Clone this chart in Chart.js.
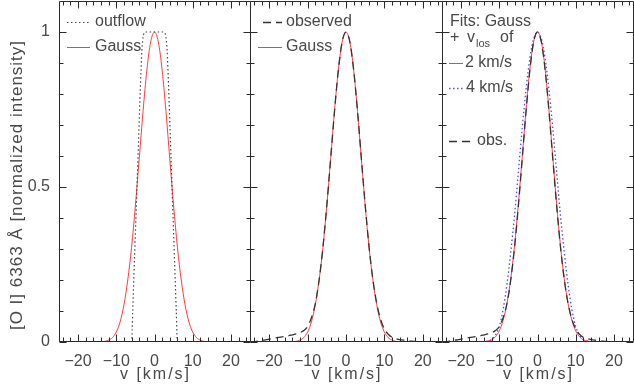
<!DOCTYPE html>
<html>
<head>
<meta charset="utf-8">
<script src="https://cdn.jsdelivr.net/npm/chart.js@4.4.1/dist/chart.umd.min.js"></script>
<style>
body { margin: 0; background: #fff; width: 634px; height: 385px; position: relative; overflow: hidden; }
canvas { position: absolute; top: 0; }
</style>
</head>
<body>
<canvas id="panel1" width="252" height="385" style="left:0px"></canvas>
<canvas id="panel2" width="196" height="385" style="left:248px"></canvas>
<canvas id="panel3" width="194" height="385" style="left:440px"></canvas>
<script>
// velocity grid [km/s] of the profiles
const velocity = [-25,-24,-23,-22,-21,-20,-19,-18,-17,-16,-15,-14,-13,-12,-11,-10,-9,-8,-7,-6,-5,-4,-3,-2,-1,
    0,1,2,3,4,5,6,7,8,9,10,11,12,13,14,15,16,17,18,19,20,21,22,23,24,25];

// Gauss fit (panels 1 and 2)
const gaussFit = [0,0,0,0,0,0,0,0,0,0,0,0.001,0.002,0.006,0.014,0.032,0.065,0.12,0.2,0.306,0.44,0.591,0.744,0.877,0.968,
    1,0.968,0.877,0.744,0.591,0.44,0.306,0.2,0.12,0.065,0.032,0.014,0.006,0.002,0.001,0,0,0,0,0,0,0,0,0,0,0];

// observed profile (panels 2 and 3)
const observed = [0,0.001,0.003,0.005,0.007,0.009,0.012,0.014,0.016,0.018,0.02,0.023,0.026,0.03,0.037,0.05,0.078,0.124,0.2,0.306,0.44,0.59,0.743,0.876,0.968,
    1,0.968,0.877,0.745,0.592,0.442,0.308,0.202,0.125,0.074,0.042,0.025,0.015,0.011,0.008,0.006,0.005,0.003,0.002,0.001,0,0,0,0,0,0];

// fits with v_los of 2 and 4 km/s (panel 3)
const fit2kms = [0,0,0,0,0,0,0,0,0,0,0,0.001,0.003,0.007,0.017,0.036,0.07,0.124,0.204,0.312,0.446,0.596,0.748,0.88,0.969,
    1,0.969,0.88,0.748,0.596,0.446,0.312,0.204,0.124,0.07,0.036,0.017,0.007,0.003,0.001,0,0,0,0,0,0,0,0,0,0,0];
const fit4kms = [0,0,0,0,0,0,0,0,0,0,0,0.001,0.003,0.008,0.022,0.05,0.105,0.185,0.29,0.41,0.55,0.69,0.815,0.915,0.978,
    1,0.978,0.915,0.815,0.69,0.55,0.41,0.29,0.185,0.105,0.05,0.022,0.008,0.003,0.001,0,0,0,0,0,0,0,0,0,0,0];

// outflow profile (panel 1)
const outflowVel = [-25,-6,-5.7,-5.2,-4.7,-4.2,-3.7,-3.3,-2.9,-2.4,0,2.4,2.9,3.3,3.7,4.2,4.7,5.2,5.7,6,25];
const outflow = [0,0,0.1,0.28,0.46,0.64,0.82,0.94,0.99,1,1,1,0.99,0.94,0.82,0.64,0.46,0.28,0.1,0,0];

// ticks
const xMajor = [-20,-10,0,10,20];
const xMinor = [-24,-22,-18,-16,-14,-12,-8,-6,-4,-2,2,4,6,8,12,14,16,18,22,24];
const yMajor = [0,0.5,1];
const yMinor = [0.1,0.2,0.3,0.4,0.6,0.7,0.8,0.9];

const xTitle = 'v [km/s]';
const yTitle = '[O I] 6363 \u00c5 [normalized intensity]';

const FONT = "'Liberation Sans', Arial, sans-serif";
const TEXT = '#484848';
const AXIS = '#2a2a2a';
const RED = '#ff3b3b';
const BLUE = '#4a4aff';

function pts(xs, ys) {
    return xs.map((x, i) => ({ x: x, y: ys[i] }));
}

const outflowStyle = { borderColor: '#444', borderDash: [1.5, 2.5], borderWidth: 1.2 };
const gaussStyle = { borderColor: RED, borderDash: [], borderWidth: 1 };
const obsStyle = { borderColor: '#333', borderDash: [8, 5], borderWidth: 1.3 };
const blueStyle = { borderColor: BLUE, borderDash: [1.5, 2.5], borderWidth: 1.3 };

// frame, inward ticks, legend and titles
const deco = {
    id: 'deco',
    afterDraw(chart, args, opts) {
        const ctx = chart.ctx;
        const a = chart.chartArea;
        const x = chart.scales.x, y = chart.scales.y;
        ctx.save();
        ctx.globalAlpha = 1;
        ctx.setLineDash([]);
        ctx.strokeStyle = AXIS;
        ctx.lineWidth = 1;
        const L = Math.round(a.left) + 0.5, R = Math.round(a.right) + 0.5;
        const T = Math.round(a.top) + 0.5, B = Math.round(a.bottom) - 0.5;
        ctx.beginPath();
        ctx.rect(L, T, R - L, B - T);
        xMajor.forEach(v => {
            const px = Math.round(x.getPixelForValue(v)) + 0.5;
            ctx.moveTo(px, B); ctx.lineTo(px, B - 7);
            ctx.moveTo(px, T); ctx.lineTo(px, T + 7);
        });
        xMinor.forEach(v => {
            const px = Math.round(x.getPixelForValue(v)) + 0.5;
            ctx.moveTo(px, B); ctx.lineTo(px, B - 4);
            ctx.moveTo(px, T); ctx.lineTo(px, T + 4);
        });
        yMajor.forEach(v => {
            const py = Math.round(y.getPixelForValue(v)) + 0.5;
            ctx.moveTo(L, py); ctx.lineTo(L + 7, py);
            ctx.moveTo(R, py); ctx.lineTo(R - 7, py);
        });
        yMinor.forEach(v => {
            const py = Math.round(y.getPixelForValue(v)) + 0.5;
            ctx.moveTo(L, py); ctx.lineTo(L + 4, py);
            ctx.moveTo(R, py); ctx.lineTo(R - 4, py);
        });
        ctx.stroke();

        // legend
        ctx.fillStyle = TEXT;
        ctx.font = '16px ' + FONT;
        ctx.textBaseline = 'middle';
        ctx.textAlign = 'left';
        (opts.legend || []).forEach(item => {
            if (item.ds !== undefined) {
                const ds = chart.data.datasets[item.ds];
                ctx.save();
                ctx.strokeStyle = ds.borderColor;
                ctx.lineWidth = ds.borderWidth;
                ctx.setLineDash(ds.borderDash || []);
                ctx.beginPath();
                ctx.moveTo(a.left + item.x1, item.y + 0.5);
                ctx.lineTo(a.left + item.x2, item.y + 0.5);
                ctx.stroke();
                ctx.restore();
            }
            if (item.parts) {
                item.parts.forEach(p => {
                    ctx.font = p.size + 'px ' + FONT;
                    ctx.fillText(p.text, a.left + p.x, item.y + (p.dy || 0));
                });
                ctx.font = '16px ' + FONT;
            } else {
                ctx.fillText(item.text, a.left + item.tx, item.y);
            }
        });

        // x title
        ctx.textAlign = 'center';
        ctx.letterSpacing = '2px';
        ctx.fillText(xTitle, (a.left + a.right) / 2 + 1, 375);
        // y title
        if (opts.yTitle) {
            ctx.font = '17px ' + FONT;
            ctx.letterSpacing = '1px';
            ctx.translate(17, 185);
            ctx.rotate(-Math.PI / 2);
            ctx.fillText(yTitle, 0, 0);
        }
        ctx.restore();
    }
};

function makePanel(id, datasets, cfg) {
    return new Chart(document.getElementById(id), {
        type: 'line',
        data: { datasets: datasets },
        options: {
            responsive: false,
            animation: false,
            layout: { padding: { top: 1, bottom: 0, left: cfg.padLeft, right: cfg.padRight } },
            elements: {
                point: { radius: 0 },
                line: { cubicInterpolationMode: 'monotone', fill: false }
            },
            plugins: {
                legend: { display: false },
                tooltip: { enabled: false },
                deco: { legend: cfg.legend, yTitle: cfg.showY }
            },
            scales: {
                x: {
                    type: 'linear', min: -25, max: 25,
                    grid: { display: false, drawTicks: false },
                    border: { display: false },
                    afterBuildTicks: s => { s.ticks = xMajor.map(v => ({ value: v })); },
                    afterFit: s => { s.height = 43; s.paddingLeft = 0; s.paddingRight = 0; },
                    ticks: {
                        font: { family: FONT, size: 16 }, color: TEXT, padding: 10,
                        maxRotation: 0, autoSkip: false,
                        callback: v => String(v).replace('-', '\u2212')
                    }
                },
                y: {
                    type: 'linear', min: 0, max: 1.1,
                    display: cfg.showY,
                    grid: { display: false, drawTicks: false },
                    border: { display: false },
                    afterBuildTicks: s => { s.ticks = yMajor.map(v => ({ value: v })); },
                    afterFit: s => {
                        s.width = cfg.showY ? 59 : 0;
                        s.paddingTop = 0;
                        s.paddingBottom = 0;
                    },
                    ticks: {
                        font: { family: FONT, size: 16 }, color: TEXT, padding: 9,
                        callback: v => String(v)
                    }
                }
            }
        },
        plugins: [deco]
    });
}

makePanel('panel1', [
    Object.assign({ label: 'outflow', data: pts(outflowVel, outflow) }, outflowStyle),
    Object.assign({ label: 'Gauss', data: pts(velocity, gaussFit) }, gaussStyle)
], {
    showY: true, padLeft: 0, padRight: 2,
    legend: [
        { ds: 0, x1: 8, x2: 31, tx: 36, y: 22, text: 'outflow' },
        { ds: 1, x1: 8, x2: 31, tx: 36, y: 47, text: 'Gauss' }
    ]
});

makePanel('panel2', [
    Object.assign({ label: 'observed', data: pts(velocity, observed) }, obsStyle),
    Object.assign({ label: 'Gauss', data: pts(velocity, gaussFit) }, gaussStyle)
], {
    showY: false, padLeft: 2, padRight: 2,
    legend: [
        { ds: 0, x1: 13, x2: 32, tx: 36, y: 22, text: 'observed' },
        { ds: 1, x1: 8, x2: 32, tx: 36, y: 47, text: 'Gauss' }
    ]
});

makePanel('panel3', [
    Object.assign({ label: 'obs.', data: pts(velocity, observed) }, obsStyle),
    Object.assign({ label: '2 km/s', data: pts(velocity, fit2kms) }, gaussStyle),
    Object.assign({ label: '4 km/s', data: pts(velocity, fit4kms) }, blueStyle)
], {
    showY: false, padLeft: 2, padRight: 1,
    legend: [
        { tx: 8, y: 22, text: 'Fits: Gauss' },
        { y: 38, parts: [
            { text: '+', x: 8, size: 16 },
            { text: 'v', x: 25, size: 16 },
            { text: 'los', x: 34, size: 11, dy: 6 },
            { text: 'of', x: 58, size: 16 }
        ] },
        { ds: 1, x1: 7, x2: 21, tx: 23, y: 63, text: '2 km/s' },
        { ds: 2, x1: 7, x2: 23, tx: 24, y: 88, text: '4 km/s' },
        { ds: 0, x1: 7, x2: 30, tx: 35, y: 141, text: 'obs.' }
    ]
});
</script>
</body>
</html>
